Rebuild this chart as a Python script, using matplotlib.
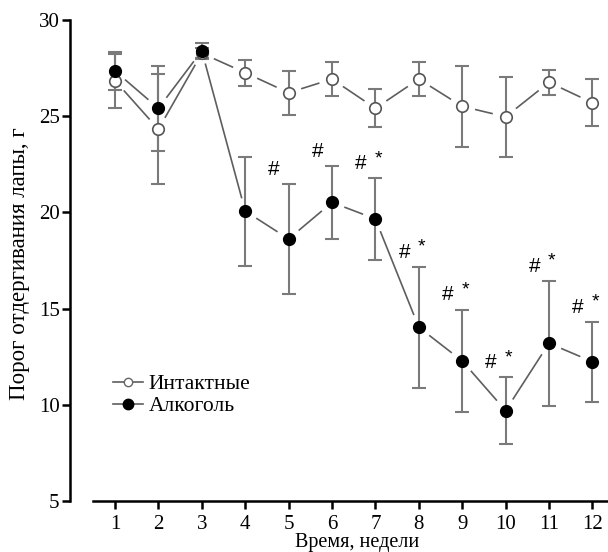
import numpy as np
import matplotlib
matplotlib.use("Agg")
import matplotlib.pyplot as plt
from matplotlib.lines import Line2D

weeks = [1, 2, 3, 4, 5, 6, 7, 8, 9, 10, 11, 12]
intact_mean = [26.85, 24.32, 28.27, 27.26, 26.22, 26.93, 25.41, 26.93, 25.51, 24.97, 26.76, 25.70]
intact_err = [1.4, 2.85, 0.3, 0.67, 1.15, 0.9, 0.98, 0.9, 2.1, 2.08, 0.65, 1.22]
alcohol_mean = [27.35, 25.41, 28.40, 20.07, 18.62, 20.52, 19.66, 14.03, 12.28, 9.70, 13.20, 12.24]
alcohol_err = [1.0, 2.2, 0.4, 2.83, 2.85, 1.9, 2.13, 3.15, 2.67, 1.73, 3.25, 2.07]
sig_marks = ["", "", "", "", "#", "#", "# *", "# *", "# *", "# *", "# *", "# *"]
yticks = [5, 10, 15, 20, 25, 30]
legend_labels = ["Интактные", "Алкоголь"]
xlabel = "Время, недели"
ylabel = "Порог отдергивания лапы, г"

W, H = 608, 552
fig = plt.figure(figsize=(W / 100, H / 100), dpi=100)
ax = fig.add_axes([70 / W, (H - 501) / H, (W - 70) / W, 481 / H])
ax.set_xlim(1 - 45 / 43.4, 1 + (W - 115) / 43.4)
ax.set_ylim(5, 30)

serif = "Liberation Serif"
for s in ["top", "right"]:
    ax.spines[s].set_visible(False)
for s in ["left", "bottom"]:
    ax.spines[s].set_linewidth(1.8)
ax.spines["bottom"].set_bounds(1 - 22 / 43.4, 1 + (W - 115) / 43.4)
ax.set_xticks(weeks)
ax.set_yticks(yticks)
ax.tick_params(axis="y", direction="out", length=6, width=1.8, pad=1.5, labelsize=15)
ax.tick_params(axis="x", direction="out", length=6, width=1.8, pad=4, labelsize=15)
for lab in ax.get_xticklabels() + ax.get_yticklabels():
    lab.set_family(serif)

line_col = "#5e5e5e"
err_col = "#7a7a7a"

def gapped(xs, ys, gap=14):
    T = ax.transData
    pts = T.transform(np.column_stack([xs, ys]))
    for i in range(len(pts) - 1):
        p0, p1 = pts[i], pts[i + 1]
        d = p1 - p0
        L = np.hypot(*d)
        if L <= 2 * gap + 2:
            continue
        u = d / L
        a = T.inverted().transform(p0 + u * gap)
        b = T.inverted().transform(p1 - u * gap)
        ax.plot([a[0], b[0]], [a[1], b[1]], color=line_col, lw=1.2, zorder=2)

gapped(weeks, intact_mean)
gapped(weeks, alcohol_mean)

ax.errorbar(weeks, intact_mean, yerr=intact_err, fmt="none", ecolor=err_col,
            elinewidth=1.5, capsize=5, capthick=1.5, zorder=3, clip_on=False)
ax.errorbar(weeks, alcohol_mean, yerr=alcohol_err, fmt="none", ecolor=err_col,
            elinewidth=1.5, capsize=5, capthick=1.5, zorder=3, clip_on=False)
ax.plot(weeks, intact_mean, "o", ms=8.3, mfc="white", mec="#555555", mew=1.2,
        zorder=4, clip_on=False)
ax.plot(weeks, alcohol_mean, "o", ms=8.5, mfc="black", mec="black", mew=1,
        zorder=5, clip_on=False)

for x, m, e, s in zip(weeks, alcohol_mean, alcohol_err, sig_marks):
    if not s:
        continue
    top = m + e
    ax.annotate("#", (x, top), xytext=(-10.5, 10.5), textcoords="offset points",
                ha="center", va="center", fontsize=15, family="Liberation Sans")
    if "*" in s:
        ax.annotate("*", (x, top), xytext=(2, 14), textcoords="offset points",
                    ha="center", va="center", fontsize=14, family="Liberation Sans")

handles = [
    Line2D([0], [0], color=line_col, lw=1.2, marker="o", ms=6, mfc="white", mec="#666666"),
    Line2D([0], [0], color=line_col, lw=1.2, marker="o", ms=7.5, mfc="black", mec="black"),
]
ax.legend(handles, legend_labels, loc="upper left", bbox_to_anchor=(113 / W, 1 - 374 / H),
          bbox_transform=fig.transFigure, frameon=False, handlelength=1.4,
          handletextpad=0.25, labelspacing=0.1, borderaxespad=0, borderpad=0,
          prop={"family": serif, "size": 15.5})

fig.text(357 / W, 5 / H, xlabel, ha="center", va="baseline", family=serif, fontsize=14.5)
fig.text(20 / W, 1 - 264 / H, ylabel, ha="center", va="center", rotation=90,
         family=serif, fontsize=16.5)

fig.savefig("out.png", dpi=100)
